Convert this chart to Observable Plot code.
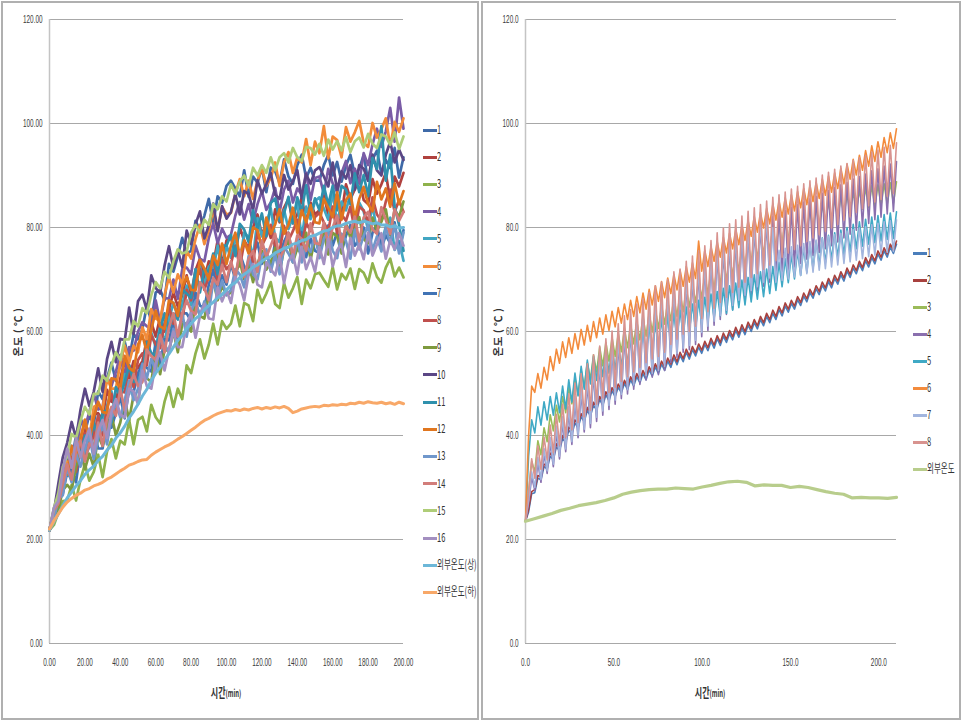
<!DOCTYPE html>
<html><head><meta charset="utf-8">
<script src="https://cdn.jsdelivr.net/npm/d3@7"></script>
<script src="https://cdn.jsdelivr.net/npm/@observablehq/plot@0.6"></script>
<style>
body{margin:0;background:#fff;}
#wrap{position:relative;width:962px;height:722px;overflow:hidden;background:#fff;font-family:"Noto Sans CJK KR","Noto Sans",sans-serif;color:#333;}
.frame{position:absolute;border:2px solid #b0b0b0;box-sizing:border-box;}
.panel{position:absolute;top:0;}
.li{position:absolute;height:12px;white-space:nowrap;}
.sw{position:absolute;left:0;top:4.5px;width:14px;height:3px;}
.lt{position:absolute;left:14px;top:-4px;font-size:12.5px;line-height:18px;display:inline-block;transform:scaleX(0.6);transform-origin:left center;color:#333;}
.ytitle{position:absolute;transform:translate(-50%,-50%) rotate(-90deg);font-size:10.5px;font-weight:bold;white-space:nowrap;color:#333;letter-spacing:0.5px;}
.xtitle{position:absolute;transform:translate(-50%,-50%) scaleX(0.62);white-space:nowrap;color:#333;}
</style></head>
<body><div id="wrap"></div>
<script>
// ---------------- LEFT CHART DATA ----------------
const leftStep = 2.5; // minutes between samples
const leftXTicks = [0, 20, 40, 60, 80, 100, 120, 140, 160, 180, 200];
const leftYTicks = [0, 20, 40, 60, 80, 100, 120];
const leftNames = ["1","2","3","4","5","6","7","8","9","10","11","12","13","14","15","16","외부온도(상)","외부온도(하)"];
const leftColors = ["#3f6aa8","#b0413e","#8fb24c","#7a5ca6","#42a6c2","#f28c3a","#4073b5","#c0504d","#7e9a3e","#5b4785","#2f91ad","#e0761f","#7097cb","#d27d7a","#afcd78","#a38fc0","#6cb7d8","#f8a868"];

const L1 = [21.8,
 25.9,28.3,33.3,35.5,35.0,40.0,43.5,40.5,44.0,42.0,48.5,47.0,51.0,54.0,50.5,53.5,58.0,54.5,59.5,58.5,
 60.5,65.0,62.0,67.5,68.0,66.0,73.0,71.5,74.5,78.0,75.0,75.5,81.3,79.5,82.3,85.5,80.8,86.0,84.8,88.0,
 89.0,87.5,86.0,91.0,85.9,89.8,88.6,91.5,86.8,91.5,90.8,88.5,93.1,89.8,88.4,92.0,94.0,89.5,91.5,89.0,
 89.0,92.0,94.0,90.0,92.6,88.8,91.9,94.0,90.1,91.3,93.9,89.0,93.1,94.8,90.4,93.0,91.4,95.3,89.6,93.5];
const L2 = [21.8,
 25.6,28.0,30.5,35.0,33.0,38.0,38.0,42.0,38.3,44.0,44.3,43.0,48.8,46.5,46.3,51.0,54.3,51.0,54.3,53.0,
 54.3,58.5,61.8,59.0,62.8,60.0,64.3,67.5,64.8,67.0,70.8,67.0,71.8,74.0,70.3,73.5,72.8,77.5,72.8,77.5,
 78.0,75.0,80.0,77.5,76.0,80.0,82.5,78.5,81.0,78.0,83.5,81.0,83.8,85.5,80.8,82.5,85.8,81.0,84.8,82.5,
 83.3,86.5,82.3,86.5,85.8,82.5,88.3,85.5,87.3,89.5,85.3,84.5,89.3,86.5,88.3,90.5,85.1,89.8,87.9,90.5];
const L3 = [21.8,
 22.8,25.2,27.4,27.5,30.5,27.5,31.5,34.5,31.3,33.0,36.3,32.0,36.9,39.3,35.6,39.0,38.3,43.0,38.3,43.0,
 43.6,40.8,45.9,43.5,42.3,46.5,49.3,45.5,49.0,47.0,53.5,52.0,55.8,58.5,54.8,57.5,61.5,57.5,62.0,60.5,
 61.5,65.0,61.0,65.5,65.0,62.0,68.0,65.5,67.3,69.5,65.3,64.5,69.3,66.5,68.3,70.5,65.3,70.0,68.3,71.0,
 71.3,69.9,68.6,72.4,68.1,71.1,70.0,72.1,68.2,72.0,71.3,69.4,73.1,70.5,69.4,72.3,74.0,70.6,72.3,70.4];
const L4 = [21.8,
 25.0,29.5,31.7,37.0,38.0,36.0,43.0,41.5,44.5,48.0,45.0,45.5,51.3,49.5,52.3,55.5,51.3,57.0,56.3,60.0,
 61.8,61.0,60.3,66.0,61.8,66.5,66.3,70.0,66.3,72.0,72.3,71.0,76.5,74.0,73.5,78.0,80.8,77.0,79.8,78.0,
 78.6,82.3,84.9,81.5,84.5,81.0,84.5,87.0,83.4,84.8,87.6,83.0,87.3,89.0,84.8,87.5,86.3,90.5,85.3,89.5,
 89.8,86.5,91.3,88.5,86.8,90.5,92.8,88.5,91.3,88.5,94.3,92.0,96.0,99.0,95.5,98.5,103.0,96.5,105.0,99.0];
const L5 = [21.8,
 25.1,26.8,31.0,32.5,31.8,36.5,39.8,36.5,39.8,37.5,43.8,42.0,45.8,48.5,44.8,47.5,51.8,48.0,52.8,51.5,
 52.3,56.5,59.8,57.0,60.8,58.0,62.3,65.5,62.8,65.0,68.8,65.0,70.0,72.5,69.0,72.5,71.8,76.5,71.8,76.5,
 74.2,78.6,73.2,79.0,78.2,74.1,81.8,78.3,80.7,83.7,78.1,77.2,83.4,79.7,82.0,84.8,77.9,84.0,81.6,85.1,
 85.8,83.6,81.5,87.1,80.6,85.0,83.3,86.4,79.9,84.8,83.1,79.6,84.3,79.3,76.8,80.2,81.9,75.7,77.4,73.6];
const L6 = [21.8,
 25.6,28.0,30.5,35.0,33.3,38.5,38.8,43.0,39.5,45.5,46.0,45.0,51.0,49.0,49.0,54.0,57.3,54.0,57.3,56.0,
 60.8,58.5,64.3,62.5,62.0,67.0,70.5,67.5,71.0,69.0,75.5,74.0,77.8,80.5,76.8,79.5,83.5,79.5,84.0,82.5,
 82.8,86.5,89.3,86.0,89.0,85.5,89.0,91.5,88.0,89.5,92.5,88.0,92.5,94.5,90.5,93.5,92.5,97.0,92.0,96.5,
 94.3,99.5,93.3,97.5,96.8,93.5,99.3,96.5,98.3,100.5,96.3,95.5,100.1,97.3,98.9,101.0,95.6,100.3,98.4,101.0];
const L7 = [21.8,
 24.0,27.5,28.7,33.0,33.5,31.0,37.5,35.5,38.0,41.0,37.5,37.5,43.3,41.5,44.3,47.5,43.3,49.0,48.3,52.0,
 53.8,53.0,52.3,58.0,53.8,58.5,58.3,62.0,58.0,63.5,63.5,62.0,67.5,65.0,64.5,69.0,71.8,68.0,70.8,69.0,
 73.0,70.0,75.0,72.5,70.9,74.8,77.1,73.0,75.3,72.0,77.3,74.5,77.3,79.0,74.3,76.0,79.1,74.3,77.9,75.5,
 75.1,78.3,80.4,76.5,79.1,75.3,78.4,80.5,76.5,77.5,80.0,75.0,79.0,80.5,76.0,78.5,77.0,81.0,75.5,79.5];
const L8 = [21.8,
 24.0,27.7,31.1,32.7,35.8,33.0,37.3,40.5,37.8,40.0,43.8,40.0,45.3,48.0,44.8,48.5,48.3,53.5,49.3,54.5,
 55.8,53.5,59.3,57.5,56.8,61.5,64.8,61.5,64.5,62.0,68.0,66.0,69.5,72.0,68.0,70.5,74.1,69.8,73.9,72.0,
 73.0,76.5,72.5,77.0,76.4,73.3,79.1,76.5,78.3,80.5,76.3,75.5,80.3,77.5,79.3,81.5,76.3,81.0,79.3,82.0,
 82.8,81.0,79.3,84.0,78.8,82.5,81.3,84.0,79.3,84.0,83.3,81.0,85.8,82.5,81.3,85.0,87.3,83.0,85.3,83.0];
const L9 = [21.8,
 24.6,25.8,29.5,30.5,29.5,34.0,37.0,33.5,36.5,34.0,40.0,38.0,41.5,44.0,40.0,42.5,46.8,43.0,47.8,46.5,
 51.8,51.0,50.3,56.0,51.8,56.5,56.3,60.0,56.0,61.5,61.5,60.0,65.5,63.0,62.5,67.0,69.8,66.0,68.8,67.0,
 67.5,71.0,73.5,70.0,73.0,69.5,73.0,75.5,71.9,73.3,76.1,71.5,75.8,77.5,73.3,76.0,74.8,79.0,73.8,78.0,
 75.8,79.0,74.8,79.0,78.3,75.0,80.8,78.0,79.8,82.0,77.8,77.0,81.9,79.3,81.1,83.5,78.5,83.5,82.0,85.0];
const L10 = [21.8,
 25.4,30.8,35.8,38.6,42.6,39.5,44.9,49.0,45.7,48.4,52.9,48.4,54.7,58.0,54.1,58.6,58.3,64.6,59.5,65.8,
 67.1,64.1,70.8,68.4,67.3,72.7,76.4,72.2,75.6,72.4,79.4,76.8,80.6,83.1,77.9,80.4,84.6,79.3,84.1,81.7,
 83.0,86.5,82.5,87.0,86.4,83.3,89.1,86.5,88.3,90.5,86.3,85.5,90.1,87.3,88.9,91.0,85.6,90.3,88.4,91.0,
 91.6,89.8,87.9,92.5,87.1,90.8,89.4,92.0,87.3,92.0,91.3,89.0,94.0,91.0,90.0,94.0,96.5,92.5,95.0,93.0];
const L11 = [21.8,
 25.2,27.1,30.4,34.0,31.3,37.0,36.3,40.0,38.3,42.5,39.3,44.5,44.8,42.5,49.3,47.5,50.3,53.5,50.3,50.5,
 52.3,58.0,55.8,55.5,60.3,63.5,60.3,63.5,62.3,68.0,67.3,66.5,72.0,67.5,72.0,71.5,75.0,71.0,76.5,76.5,
 78.6,74.5,80.7,79.6,77.2,83.3,79.7,82.7,78.3,84.7,85.6,81.2,82.7,85.9,80.8,85.8,83.1,88.1,82.4,85.6,
 83.3,88.0,84.3,88.0,83.3,88.0,87.3,84.5,90.4,86.8,90.1,86.0,93.4,91.3,99.5,89.0,94.0,84.0,80.5,75.5];
const L12 = [21.8,
 25.4,26.9,32.0,32.5,38.0,35.0,39.5,43.0,39.0,43.5,46.5,44.5,44.3,51.0,50.8,49.0,55.3,53.0,52.3,57.5,
 59.3,56.0,60.3,64.0,61.0,60.5,66.0,65.5,63.0,68.5,70.5,68.0,67.9,73.8,72.1,70.0,74.6,72.8,76.9,73.0,
 76.5,79.0,74.5,77.5,75.0,80.0,79.5,76.0,81.9,78.8,80.6,83.5,78.8,80.5,83.8,79.0,83.3,81.0,84.3,81.0,
 80.8,85.5,83.8,82.0,86.8,81.5,85.3,86.5,81.8,85.5,87.8,84.5,83.1,88.8,85.4,87.5,84.0,88.5,84.5,87.0];
const L13 = [21.8,
 23.9,27.9,28.5,34.0,31.0,36.5,34.0,37.5,40.0,35.5,39.5,42.0,38.3,43.5,46.3,43.5,46.8,50.5,46.8,49.0,
 53.8,51.0,54.8,52.5,59.0,57.5,56.0,60.5,59.0,63.5,59.0,64.0,65.8,63.0,65.8,63.5,69.8,66.5,69.8,67.0,
 68.0,72.0,71.0,68.5,74.5,71.0,70.0,74.5,75.8,71.5,74.8,71.0,76.3,75.0,73.3,78.0,73.3,76.5,75.3,78.5,
 74.1,77.8,79.4,75.5,74.1,78.8,77.4,74.0,79.6,75.8,78.4,80.5,75.6,78.3,75.4,80.0,77.0,80.5,75.0,79.0];
const L14 = [21.8,
 25.6,26.9,30.7,34.5,31.5,37.0,39.0,35.0,38.5,37.5,42.5,38.0,43.3,45.5,43.8,49.0,44.8,49.0,51.8,49.5,
 50.3,56.5,55.3,54.5,59.3,56.0,60.8,63.5,59.0,63.5,66.0,64.0,63.3,69.5,68.3,66.0,70.3,69.0,72.8,69.5,
 73.5,70.5,75.5,70.5,74.0,75.5,71.5,77.5,74.3,76.5,78.8,74.0,75.8,79.0,74.3,78.5,77.8,75.5,80.8,77.0,
 76.8,81.0,76.8,80.0,82.3,77.0,80.3,79.0,82.1,77.3,81.9,83.0,79.6,78.8,83.9,81.5,78.8,83.5,81.3,83.0];
const L15 = [21.8,
 26.1,28.9,34.0,36.0,40.3,39.5,42.8,45.5,44.0,48.0,48.0,51.5,50.5,53.5,56.0,54.5,58.5,58.5,62.0,61.0,
 64.5,63.5,67.0,69.5,68.3,71.5,70.3,73.5,75.8,75.0,75.3,79.0,80.5,79.0,81.5,80.5,84.5,83.5,86.0,85.0,
 88.3,86.5,88.8,90.0,88.0,91.5,90.0,92.0,90.5,93.5,91.0,93.5,94.3,92.5,95.3,93.5,92.8,95.5,95.3,94.0,
 96.1,93.8,96.9,95.0,96.6,94.8,97.4,94.5,96.6,97.3,95.4,98.0,96.1,95.3,97.9,97.5,95.9,98.3,95.1,97.5];
const L16 = [21.8,
 26.1,27.4,33.2,37.5,33.8,39.5,35.8,39.0,41.3,36.5,40.8,43.0,39.5,44.5,47.0,44.0,43.5,49.0,48.5,46.0,
 52.5,49.5,49.0,54.0,56.0,52.5,56.5,60.0,57.0,57.0,61.5,63.5,58.8,63.0,65.3,62.5,62.3,68.5,65.8,68.0,
 65.5,70.5,69.0,66.0,71.0,73.0,69.0,68.5,73.3,72.0,70.8,74.5,69.3,73.5,74.8,71.0,76.3,72.0,74.3,71.5,
 76.3,73.0,77.8,72.5,75.6,76.8,72.4,78.0,74.6,76.8,73.9,79.0,74.6,76.8,78.9,74.0,77.6,75.8,78.9,76.5];
const L17 = [21.8,
 23.4,24.9,26.5,28.0,29.1,30.3,31.3,32.5,33.4,34.1,35.2,36.0,37.2,38.1,39.5,40.5,41.8,43.4,44.6,46.0,
 47.6,48.9,50.6,52.0,53.1,54.6,55.7,57.0,58.3,59.2,60.6,61.5,62.5,63.1,64.2,65.0,65.6,66.5,67.1,68.0,
 68.9,69.4,70.4,71.0,71.6,72.4,72.8,73.5,74.1,74.4,75.1,75.5,76.0,76.2,76.8,77.0,77.5,77.7,78.3,78.5,
 78.9,79.3,79.5,80.0,80.3,80.4,80.8,81.0,81.2,80.9,81.2,81.0,80.7,80.9,80.5,80.5,80.1,80.3,79.9,80.0];
const L18 = [22.0,
 23.6,24.9,26.2,27.2,27.9,28.5,28.9,29.5,29.8,30.3,30.6,31.0,31.6,32.0,32.6,33.2,33.7,34.3,34.6,35.0,
 35.3,35.4,36.2,36.8,37.3,37.8,38.2,38.7,39.3,39.8,40.4,41.0,41.6,42.3,42.9,43.3,43.8,44.2,44.5,44.8,
 44.7,45.0,44.8,45.1,44.9,45.2,45.4,45.1,45.4,45.2,45.5,45.3,45.6,45.2,44.4,44.7,45.1,45.3,45.5,45.6,
 45.5,45.8,45.7,45.9,45.8,46.0,45.9,46.2,46.1,46.4,46.2,46.5,46.3,46.2,46.4,46.1,46.3,46.0,46.4,46.1];

// ---------------- RIGHT CHART DATA ----------------
const rightStep = 1.75; // minutes between samples
const rightExtStep = 5;
const rightXTicks = [0, 50, 100, 150, 200];
const rightYTicks = [0, 20, 40, 60, 80, 100, 120];
const rightNames = ["1","2","3","4","5","6","7","8","외부온도"];
const rightColors = ["#4a7ebb","#a8413e","#9bbb59","#8a6fae","#3fa9c5","#f38b3c","#a2b5de","#d8938f","#b8cd8c"];

const R1 = [23.5,
 25.3,28.8,29.0,31.8,31.5,34.0,33.6,36.0,35.4,37.8,37.1,39.4,38.7,41.0,40.3,42.4,41.5,43.6,42.7,44.8,
 43.8,45.8,44.9,46.9,45.8,47.8,46.7,48.6,47.5,49.3,48.2,50.0,48.8,50.7,49.5,51.3,50.1,51.9,50.7,52.6,
 51.4,53.2,51.9,53.7,52.5,54.3,53.1,54.9,53.6,55.4,54.2,56.0,54.7,56.5,55.3,57.0,55.8,57.5,56.3,58.1,
 56.8,58.6,57.3,59.1,57.9,59.6,58.4,60.2,58.9,60.7,59.4,61.2,60.0,61.7,60.5,62.3,61.1,62.9,61.7,63.5,
 62.3,64.2,63.0,64.9,63.7,65.4,64.3,66.1,65.0,66.8,65.7,67.5,66.4,68.2,67.1,68.9,67.8,69.6,68.4,70.2,
 69.1,70.9,69.7,71.6,70.4,72.2,71.1,72.9,71.7,73.6,72.4,74.2,73.0,74.9,73.7,75.5,74.3,76.2,75.0,76.8];
const R2 = [23.5,
 25.8,29.2,29.6,32.3,32.1,34.5,34.2,36.6,36.0,38.4,37.7,40.0,39.3,41.6,40.9,43.0,42.1,44.2,43.3,45.4,
 44.4,46.4,45.5,47.5,46.4,48.4,47.3,49.2,48.1,49.9,48.8,50.6,49.4,51.3,50.1,51.9,50.7,52.5,51.3,53.2,
 52.0,53.8,52.5,54.3,53.1,54.9,53.7,55.5,54.2,56.0,54.8,56.6,55.3,57.1,55.9,57.6,56.4,58.1,56.9,58.7,
 57.4,59.2,57.9,59.7,58.5,60.2,59.0,60.8,59.5,61.3,60.0,61.8,60.6,62.3,61.1,62.9,61.7,63.5,62.3,64.1,
 62.9,64.8,63.6,65.5,64.3,66.0,64.9,66.7,65.6,67.4,66.3,68.1,67.0,68.8,67.7,69.5,68.4,70.2,69.0,70.8,
 69.7,71.5,70.3,72.2,71.0,72.8,71.7,73.5,72.3,74.2,73.0,74.8,73.6,75.5,74.3,76.1,74.9,76.8,75.6,77.4];
const R3 = [23.5,
 29.0,35.0,33.0,39.0,36.3,41.5,38.8,44.0,40.9,45.8,42.6,47.5,44.4,49.3,46.1,51.0,47.8,52.5,49.3,54.0,
 50.8,55.5,52.2,57.0,53.4,57.9,54.3,58.8,55.2,59.6,56.1,60.5,56.9,61.3,57.6,62.0,58.4,62.8,59.1,63.5,
 59.9,64.3,60.6,65.0,61.4,65.8,62.1,66.5,62.9,67.4,63.8,68.3,64.7,69.1,65.6,70.0,66.4,70.9,67.3,71.8,
 68.2,72.6,69.1,73.5,69.9,74.4,70.8,75.3,71.7,76.1,72.6,77.0,73.4,77.8,74.1,78.5,74.9,79.3,75.6,80.0,
 76.3,80.6,77.0,81.3,77.6,81.9,78.2,82.5,78.8,83.0,79.3,83.5,79.8,84.0,80.3,84.5,80.8,85.0,81.3,85.5,
 81.8,86.0,82.3,86.5,82.7,86.9,83.1,87.3,83.5,87.6,83.8,88.0,84.1,88.2,84.3,88.4,84.5,88.6,84.7,88.8];
const R4 = [23.5,
 27.0,32.0,29.5,34.8,31.0,36.5,32.7,38.6,34.0,40.6,35.5,42.5,36.9,44.4,38.3,46.4,39.6,48.2,40.7,50.0,
 41.5,52.0,42.7,53.6,43.9,55.0,45.0,56.5,46.0,57.9,47.1,59.4,48.0,60.6,48.9,61.7,49.8,62.8,50.7,63.9,
 51.2,65.2,51.7,65.9,52.5,66.4,54.0,67.9,55.0,68.4,56.0,69.9,56.5,70.9,57.5,71.9,59.0,72.9,60.2,73.9,
 61.2,75.4,62.3,76.3,63.3,77.1,64.2,77.9,65.2,78.6,66.2,79.5,67.1,80.2,67.8,80.8,68.7,81.5,69.5,82.2,
 70.2,82.8,70.9,83.3,71.7,83.9,72.4,84.4,73.1,84.9,73.9,85.5,74.6,86.0,75.2,86.6,75.9,87.1,76.5,87.7,
 77.2,88.2,78.0,88.7,78.7,89.3,79.5,89.8,80.2,90.3,80.8,90.9,81.5,91.3,82.0,91.8,82.6,92.2,83.1,92.7];
const R5 = [23.5,
 36.0,43.0,40.5,45.5,42.0,46.5,43.0,47.5,43.9,48.2,44.4,49.5,45.1,50.7,46.4,52.0,47.6,53.3,48.9,54.5,
 49.9,55.2,50.6,55.9,51.3,56.6,52.0,57.3,52.6,57.9,53.2,58.5,53.8,59.1,54.4,59.7,55.1,60.4,55.7,61.0,
 56.3,61.6,57.0,62.3,57.6,62.9,58.2,63.5,58.8,64.1,59.4,64.7,60.0,65.3,60.6,66.0,61.3,66.6,61.9,67.2,
 62.5,67.7,63.0,68.3,63.5,68.8,64.1,69.3,64.6,69.9,65.1,70.4,65.7,70.9,66.2,71.5,66.7,72.0,67.3,72.5,
 67.9,73.3,68.6,74.0,69.4,74.8,70.1,75.5,70.8,76.1,71.4,76.8,72.1,77.4,72.7,78.0,73.3,78.5,73.8,79.0,
 74.3,79.5,74.8,80.0,75.3,80.6,75.9,81.1,76.4,81.6,76.8,82.0,77.1,82.3,77.4,82.5,77.7,82.8,77.9,83.0];
const R6 = [23.5,
 40.0,49.5,48.3,51.9,49.1,53.1,50.7,55.2,52.5,56.6,53.9,58.0,55.0,58.8,55.8,59.6,56.6,60.4,57.4,61.2,
 58.1,61.9,58.8,62.6,59.5,63.2,60.2,63.9,60.9,64.6,61.6,65.3,62.3,66.0,62.9,66.7,63.6,67.4,64.3,68.1,
 65.1,68.8,65.8,69.6,66.5,70.3,67.3,71.0,68.0,71.8,68.7,72.5,69.5,73.2,70.2,77.4,71.6,75.6,72.5,76.3,
 73.5,77.3,74.3,78.1,75.1,78.9,75.9,79.7,76.7,80.5,77.5,81.3,78.3,82.1,79.1,82.9,79.9,83.7,80.7,84.5,
 81.4,85.1,82.0,85.7,82.6,86.3,83.2,86.9,83.8,87.5,84.4,88.1,85.0,88.7,85.6,89.3,86.2,89.9,86.8,90.5,
 87.5,91.4,88.4,92.2,89.3,93.1,90.1,93.9,91.0,94.8,91.8,95.7,92.7,96.5,93.5,97.3,94.4,98.2,95.2,99.0];
const R7 = [23.5,
 27.5,33.0,30.0,35.8,31.5,37.5,33.2,39.6,34.5,41.8,36.0,43.6,37.4,45.5,38.8,47.6,40.1,49.4,41.2,51.2,
 42.3,53.0,43.5,54.7,44.7,56.1,45.8,57.6,46.8,59.0,47.9,60.5,48.8,61.7,49.7,62.8,50.6,63.9,51.5,65.0,
 52.0,66.3,52.5,67.0,53.3,67.5,54.8,69.0,55.8,69.5,56.8,71.0,57.3,72.0,58.3,73.0,59.8,74.0,61.0,75.0,
 62.0,76.5,63.1,77.4,64.1,78.2,65.0,79.0,66.0,79.7,67.0,80.6,67.9,81.3,68.6,81.9,69.5,82.6,70.3,80.0,
 69.5,75.6,69.8,76.0,70.1,76.3,70.5,76.6,70.8,76.9,71.1,77.3,71.4,77.6,71.8,77.9,72.1,78.3,72.4,78.6,
 72.8,78.9,73.1,79.3,73.4,79.6,73.7,79.9,74.0,80.2,74.4,80.5,74.7,80.8,75.0,81.1,75.2,81.3,75.4,81.5];
const R8 = [23.5,
 29.0,35.5,31.8,38.0,33.5,39.7,35.3,42.0,36.7,44.1,38.2,46.0,39.7,48.0,41.1,50.1,42.5,51.9,43.6,53.8,
 44.8,55.5,46.0,57.2,47.2,58.6,48.3,60.1,49.3,61.5,50.4,63.0,51.3,64.2,52.2,65.3,53.1,66.4,54.0,67.5,
 54.7,68.8,55.2,69.5,56.0,70.0,57.5,71.5,58.5,72.0,59.5,73.5,60.0,74.5,61.0,75.5,62.5,76.5,63.8,77.5,
 64.5,79.0,65.6,79.9,66.6,80.7,67.5,81.5,68.5,82.2,69.5,83.1,70.4,83.8,71.1,84.4,72.0,85.1,72.8,85.8,
 73.6,86.3,74.3,86.8,75.1,87.4,75.8,87.9,76.5,88.4,77.3,89.0,78.0,89.5,78.6,90.1,79.3,90.6,79.9,91.2,
 80.6,91.8,81.4,92.3,82.1,92.9,82.9,93.4,83.6,93.9,84.2,94.5,84.9,94.9,85.4,95.4,86.0,95.8,86.5,96.3];
const RExt = [23.5,24.0,24.5,25.0,25.6,26.0,26.5,26.8,27.1,27.5,28.0,28.7,29.1,29.4,29.6,29.7,29.7,29.9,29.8,29.7,
 30.1,30.4,30.8,31.1,31.2,31.0,30.3,30.5,30.4,30.4,30.0,30.2,30.0,29.6,29.2,28.9,28.7,28.0,28.1,28.0,28.0,27.9,28.1];

// ---------------- BUILD ----------------
const leftSeries = [L1,L2,L3,L4,L5,L6,L7,L8,L9,L10,L11,L12,L13,L14,L15,L16,L17,L18];
const rightSeries = [R1,R2,R3,R4,R5,R6,R7,R8];
leftSeries.forEach((a,i)=>{ if (a.length !== 81) throw new Error("left series " + (i+1) + " has " + a.length); });
rightSeries.forEach((a,i)=>{ if (a.length !== 121) throw new Error("right series " + (i+1) + " has " + a.length); });

const leftMain = leftSeries.slice(0, 16).flatMap((vals, s) => vals.map((v, i) => ({name: leftNames[s], t: i * leftStep, v})));
const leftExt = leftSeries.slice(16).flatMap((vals, s) => vals.map((v, i) => ({name: leftNames[16 + s], t: i * leftStep, v})));
const rightRows = rightSeries.flatMap((vals, s) => vals.map((v, i) => ({name: rightNames[s], t: i * rightStep, v})));
const rightExtRows = RExt.map((v, i) => ({name: rightNames[8], t: i * rightExtStep, v}));

const wrap = document.getElementById("wrap");
const axisStyle = {fontFamily: "'Liberation Sans', Arial, sans-serif", fontSize: "11px", color: "#3a3a3a", background: "transparent", overflow: "visible"};

const leftPlot = Plot.plot({
  width: 480, height: 722,
  marginLeft: 49, marginRight: 77, marginTop: 19, marginBottom: 79,
  style: axisStyle,
  x: {domain: [0, 200], ticks: leftXTicks, tickFormat: d => d.toFixed(2), tickSize: 0, tickPadding: 15, label: null},
  y: {domain: [0, 120], ticks: leftYTicks, tickFormat: d => d.toFixed(2), tickSize: 0, tickPadding: 7, label: null},
  color: {domain: leftNames, range: leftColors},
  marks: [
    Plot.ruleY(leftYTicks, {stroke: "#a8a8a8", strokeWidth: 1}),
    Plot.ruleX([0], {stroke: "#c4c4c4", strokeWidth: 1.5}),
    Plot.lineY(leftMain, {x: "t", y: "v", z: "name", stroke: "name", strokeWidth: 2.7}),
    Plot.lineY(leftExt, {x: "t", y: "v", z: "name", stroke: "name", strokeWidth: 3})
  ]
});

const rightPlot = Plot.plot({
  width: 482, height: 722,
  marginLeft: 45, marginRight: 66, marginTop: 19, marginBottom: 79,
  style: axisStyle,
  x: {domain: [0, 210], ticks: rightXTicks, tickFormat: d => d.toFixed(1), tickSize: 0, tickPadding: 15, label: null},
  y: {domain: [0, 120], ticks: rightYTicks, tickFormat: d => d.toFixed(1), tickSize: 0, tickPadding: 7, label: null},
  color: {domain: rightNames, range: rightColors},
  marks: [
    Plot.ruleY(rightYTicks, {stroke: "#a8a8a8", strokeWidth: 1}),
    Plot.ruleX([0], {stroke: "#c4c4c4", strokeWidth: 1.5}),
    Plot.lineY(rightRows, {x: "t", y: "v", z: "name", stroke: "name", strokeWidth: 1.6}),
    Plot.lineY(rightExtRows, {x: "t", y: "v", z: "name", stroke: "name", strokeWidth: 3.2})
  ]
});

function addFrame(left, width) {
  const f = document.createElement("div");
  f.className = "frame";
  f.style.left = left + "px"; f.style.top = "1px";
  f.style.width = width + "px"; f.style.height = "719px";
  wrap.appendChild(f);
}
addFrame(1, 478);
addFrame(481, 480);

function addPanel(svg, left) {
  const d = document.createElement("div");
  d.className = "panel";
  d.style.left = left + "px";
  d.appendChild(svg);
  wrap.appendChild(d);
}
addPanel(leftPlot, 0);
addPanel(rightPlot, 480);

// condense the tick labels like the original narrow font
for (const svg of [leftPlot, rightPlot]) {
  svg.querySelectorAll("text").forEach(t => {
    const len = t.getComputedTextLength();
    if (len > 0) {
      t.setAttribute("textLength", (len * 0.58).toFixed(2));
      t.setAttribute("lengthAdjust", "spacingAndGlyphs");
    }
  });
}

function addLegend(names, colors, x, y0, dy) {
  names.forEach((n, i) => {
    const item = document.createElement("div");
    item.className = "li";
    item.style.left = x + "px";
    item.style.top = (y0 + i * dy - 6) + "px";
    const sw = document.createElement("span");
    sw.className = "sw";
    sw.style.background = colors[i];
    const tx = document.createElement("span");
    tx.className = "lt";
    tx.textContent = n;
    item.appendChild(sw); item.appendChild(tx);
    wrap.appendChild(item);
  });
}
addLegend(leftNames, leftColors, 423, 130, 27.2);
addLegend(rightNames, rightColors, 913, 253, 27);

function addYTitle(cx, cy) {
  const d = document.createElement("div");
  d.className = "ytitle";
  d.style.left = cx + "px"; d.style.top = cy + "px";
  d.textContent = "온도 ( ℃ )";
  wrap.appendChild(d);
}
addYTitle(17, 332);
addYTitle(497, 332);

function addXTitle(cx, cy) {
  const d = document.createElement("div");
  d.className = "xtitle";
  d.style.left = cx + "px"; d.style.top = cy + "px";
  d.innerHTML = '<span style="font-size:13px;font-weight:bold">시간</span><span style="font-size:9.5px;font-weight:bold">(min)</span>';
  wrap.appendChild(d);
}
addXTitle(226, 690);
addXTitle(710, 690);
</script>
</body></html>
